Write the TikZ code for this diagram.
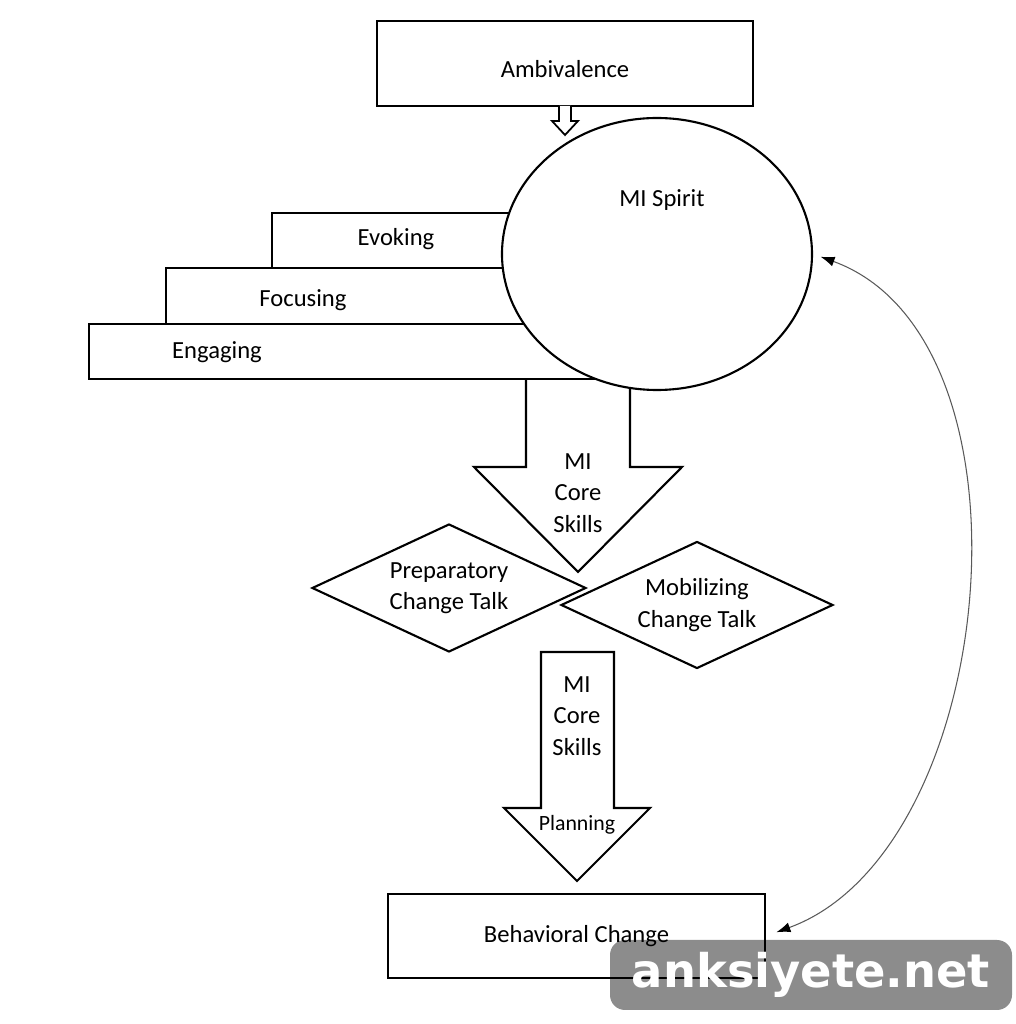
\documentclass[tikz,border=0pt]{standalone}
\usepackage{fontspec}
\setmainfont{Carlito}
\newfontfamily\markfont{DejaVu Sans}
\usetikzlibrary{shapes.geometric,arrows.meta}

\begin{document}
\begin{tikzpicture}[
    line width=0.6pt,
    every node/.style={font=\fontsize{7}{8.9}\selectfont},
    box/.style={draw, fill=white, inner sep=0pt},
    stair/.style={draw, fill=white},
    talk/.style={draw, diamond, fill=white, inner sep=0pt, align=center, shape aspect=2.14},
    blockarrow/.style={draw, fill=white, line join=miter},
    feedback/.style={{Latex[length=1.4mm,width=1mm,color=black]}-{Latex[length=1.4mm,width=1mm,color=black]}, line width=0.3pt, draw=black!65}
]
\useasboundingbox (0,0) rectangle (10.15,10.24);

% big arrow behind the stairs
\draw[blockarrow] (5.26,6.60) -- (5.26,5.57) -- (4.74,5.57) -- (5.78,4.52) -- (6.82,5.57) -- (6.30,5.57) -- (6.30,6.60) -- cycle;
\node[align=center] (coreskills) at (5.78,5.31) {MI\\Core\\Skills};

% stairs
\draw[stair] (2.72,7.56) rectangle (6.57,8.11);
\draw[stair] (1.66,7.00) rectangle (6.57,7.56);
\draw[stair] (0.89,6.45) rectangle (6.57,7.00);
\node (evoking) at (3.96,7.85) {Evoking};
\node (focusing) at (3.03,7.24) {Focusing};
\node (engaging) at (2.17,6.72) {Engaging};

% spirit
\node[draw, ellipse, fill=white, minimum width=3.10cm, minimum height=2.72cm, inner sep=0pt] (spirit) at (6.57,7.70) {};
\node (spiritlbl) at (6.62,8.24) {MI Spirit};

% top
\node[box, minimum width=3.76cm, minimum height=0.85cm] (ambivalence) at (5.65,9.605) {\raisebox{-1.5pt}[\height][\depth]{Ambivalence}};
\draw[blockarrow, line width=0.5pt] (5.59,9.18) -- (5.59,9.03) -- (5.52,9.03) -- (5.65,8.89) -- (5.78,9.03) -- (5.71,9.03) -- (5.71,9.18);

% change talk
\node[talk, minimum width=2.74cm, minimum height=1.28cm] (preparatory) at (4.49,4.36) {Preparatory\\Change Talk};
\node[talk, minimum width=2.72cm, minimum height=1.27cm] (mobilizing) at (6.97,4.19) {Mobilizing\\Change Talk};

% lower arrow
\draw[blockarrow] (5.41,3.72) -- (5.41,2.16) -- (5.04,2.16) -- (5.77,1.43) -- (6.50,2.16) -- (6.14,2.16) -- (6.14,3.72) -- cycle;
\node[align=center] (coreskillsb) at (5.77,3.08) {MI\\Core\\Skills};
\node[font=\fontsize{6.2}{7}\selectfont] (planning) at (5.77,1.99) {Planning};

% bottom
\node[box, minimum width=3.77cm, minimum height=0.84cm] (change) at (5.765,0.88) {Behavioral Change};

\draw[feedback, shorten <=0.08cm, shorten >=0.11cm] (spirit.east) to[out=-20, in=20, looseness=0.93] (change.east);

% watermark
\node[fill=black, fill opacity=0.45, text opacity=1, text=white, rounded corners=0.15cm, minimum width=4.02cm, minimum height=0.70cm, inner sep=0pt, font=\markfont\bfseries\fontsize{13.2}{13.2}\selectfont] (watermark) at (8.11,0.49) {anksiyete.net};
\end{tikzpicture}
\end{document}
